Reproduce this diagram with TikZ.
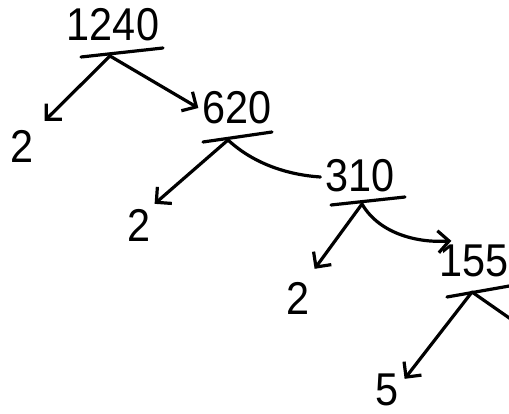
\documentclass[tikz,border=0pt]{standalone}
\usepackage{fontspec}
\setmainfont[FakeStretch=0.9]{Liberation Sans}
\usetikzlibrary{arrows.meta}

\begin{document}
\begin{tikzpicture}[
		x=1pt, y=-1pt,
		line width=3.2pt, line cap=round, line join=round,
		arrow/.style={-{Straight Barb[length=11pt, width=22pt, line width=3.2pt]}},
		num/.style={inner sep=0pt, font=\fontsize{46}{46}\selectfont},
		factor/.style={inner sep=0pt, font=\fontsize{46}{46}\selectfont},
	]
	\useasboundingbox (0,0) rectangle (509,414);
	% Numbers
	\node[num] (n1240) at (113,25) {1240};
	\node[num] (n620) at (237,108) {620};
	\node[num] (n310) at (360,176) {310};
	\node[num] (n155) at (474,261) {155};
	% Prime factors
	\node[factor] (f1) at (22,146) {2};
	\node[factor] (f2) at (139,225) {2};
	\node[factor] (f3) at (298,298) {2};
	\node[factor] (f5) at (387,390) {5};
	% Underlines and branch points
	\coordinate (u1a) at (81,57); \coordinate (u1b) at (163,48);
	\coordinate (u2a) at (203,142); \coordinate (u2b) at (272,132);
	\coordinate (u3a) at (331,205); \coordinate (u3b) at (405,197);
	\coordinate (u4a) at (447,297); \coordinate (u4b) at (515,285);
	\coordinate (b1) at (110,56);
	\coordinate (b2) at (228,140);
	\coordinate (b3) at (362,204);
	\coordinate (b4) at (472,292);
	\coordinate (off) at (515,322);
	\draw (u1a) -- (u1b);
	\draw (u2a) -- (u2b);
	\draw (u3a) -- (u3b);
	\draw (u4a) -- (u4b);
	% Branches
	\draw[arrow] (b1) -- ([shift={(9.5,-7.5)}]f1.north east);
	\draw[arrow] (b1) -- ([shift={(-2.5,0)}]n620.west);
	\draw[arrow] (b2) -- ([shift={(2.5,-3.5)}]f2.north east);
	\draw (b2) .. controls (255,165) and (290,175) .. ([shift={(-3.5,1)}]n310.west);
	\draw[arrow] (b3) -- ([shift={(3.5,-11.5)}]f3.north east);
	\draw[arrow] (b3) .. controls (380,235) and (420,243) .. ([shift={(13.5,-2.5)}]n155.north west);
	\draw[arrow] (b4) -- ([shift={(4.5,6.5)}]f5.north east);
	\draw (b4) -- (off);
\end{tikzpicture}
\end{document}
